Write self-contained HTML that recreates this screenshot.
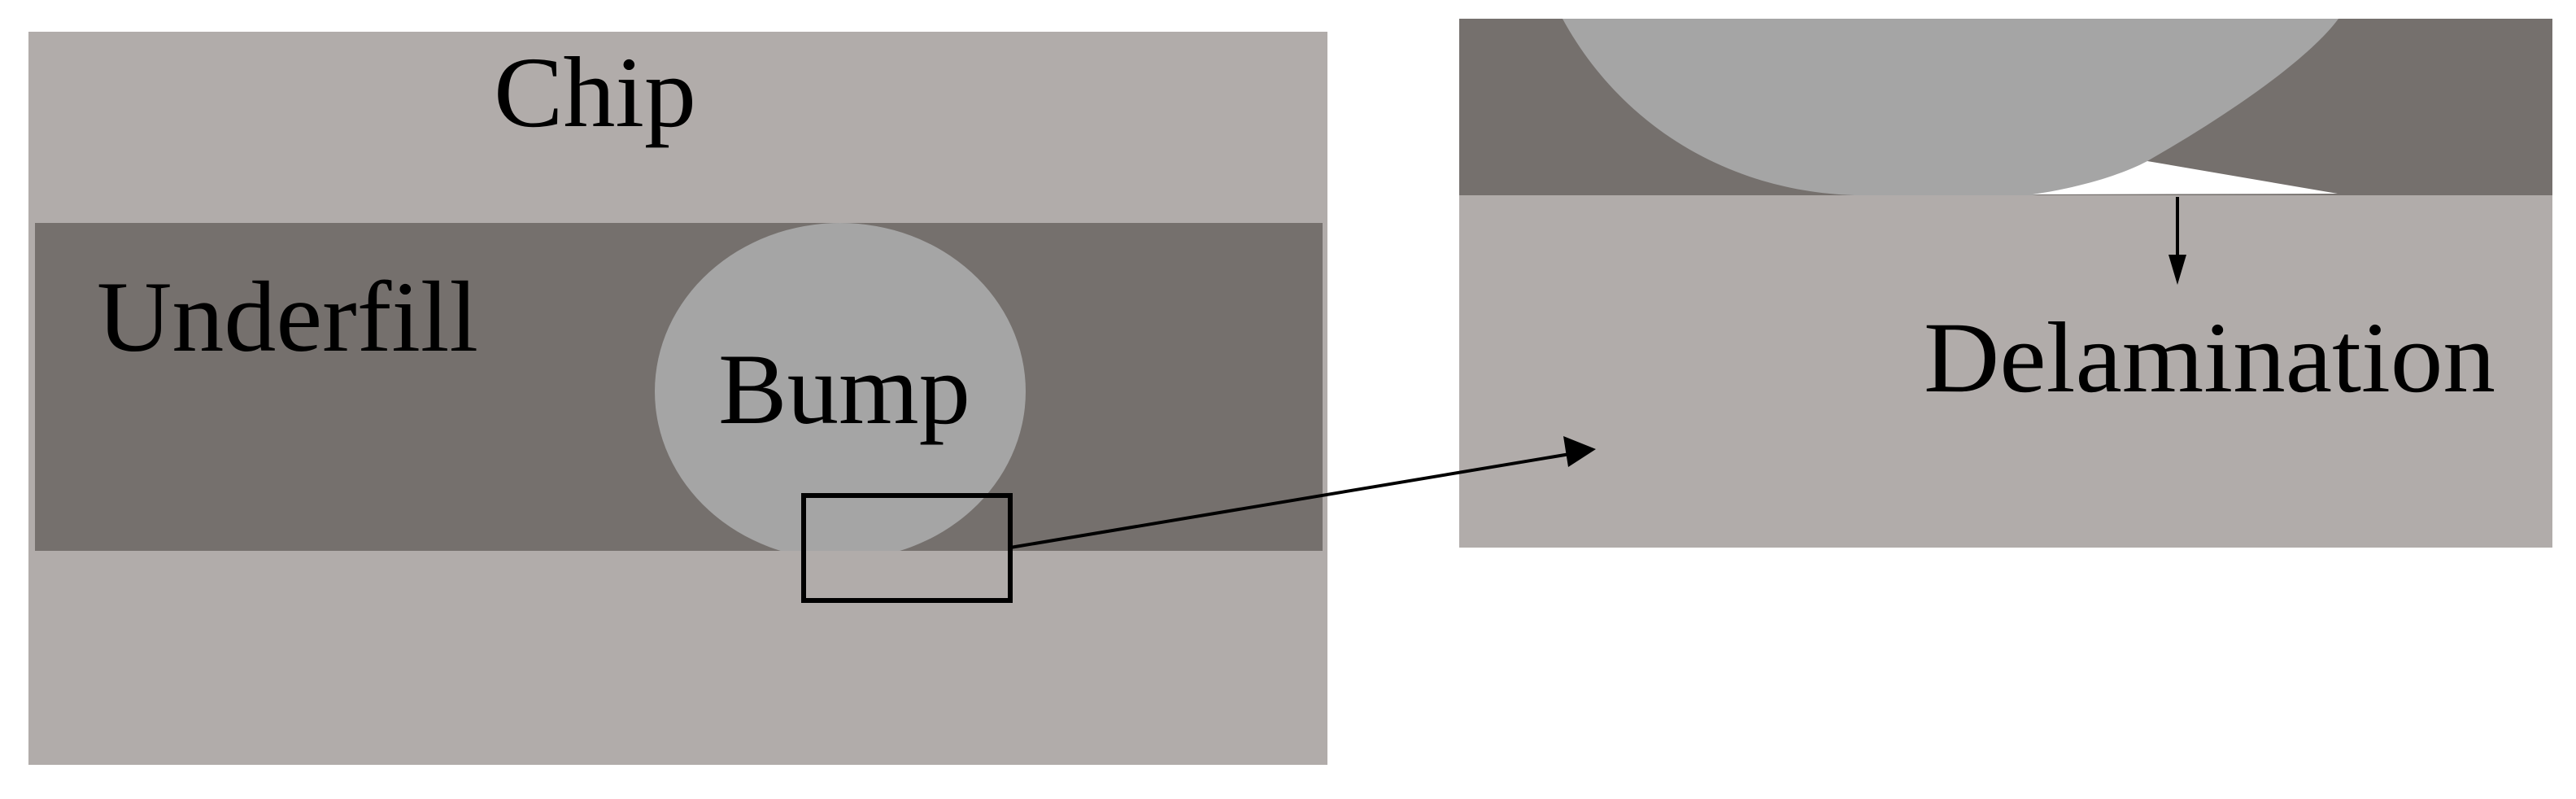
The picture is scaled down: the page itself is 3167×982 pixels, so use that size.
<!DOCTYPE html>
<html><head><meta charset="utf-8"><style>html,body{margin:0;padding:0;background:#fff}svg{display:block}</style></head>
<body>
<svg width="3167" height="982" viewBox="0 0 3167 982" xmlns="http://www.w3.org/2000/svg">
<defs><clipPath id="band"><rect x="43" y="274" width="1583" height="403"/></clipPath></defs>
<rect x="35" y="39" width="1597" height="901" fill="#b1acaa"/>
<rect x="43" y="274" width="1583" height="403" fill="#75706d"/>
<ellipse cx="1033" cy="481" rx="228" ry="207" fill="#a5a5a5" clip-path="url(#band)"/>
<rect x="1794" y="23" width="1344" height="218" fill="#75706d"/>
<rect x="1794" y="240" width="1344" height="433" fill="#b1acaa"/>
<path d="M1921,23 C1990,150 2120,235 2280,240 L2499,240 C2560,232 2610,215 2640,198 C2750,135 2840,70 2875,23 Z" fill="#a5a5a5"/>
<path d="M2499,239 C2560,230 2610,214 2640,198 L2874,238 Z" fill="#fff"/>
<rect x="988" y="609" width="254" height="129" fill="none" stroke="#000" stroke-width="6"/>
<line x1="1242" y1="673" x2="1930" y2="558" stroke="#000" stroke-width="4"/>
<polygon points="1962,552 1922,536 1928,574" fill="#000"/>
<line x1="2677" y1="242" x2="2677" y2="320" stroke="#000" stroke-width="4"/>
<polygon points="2666,313 2688,313 2677,350" fill="#000"/>
<g font-family="'Liberation Serif',serif" fill="#000">
<text x="607" y="155" font-size="124" textLength="249" lengthAdjust="spacingAndGlyphs">Chip</text>
<text x="119" y="431" font-size="124" textLength="469" lengthAdjust="spacingAndGlyphs">Underfill</text>
<text x="883" y="520" font-size="124" textLength="310" lengthAdjust="spacingAndGlyphs">Bump</text>
<text x="2365" y="481" font-size="124" textLength="703" lengthAdjust="spacingAndGlyphs">Delamination</text>
</g>
</svg>
</body></html>
